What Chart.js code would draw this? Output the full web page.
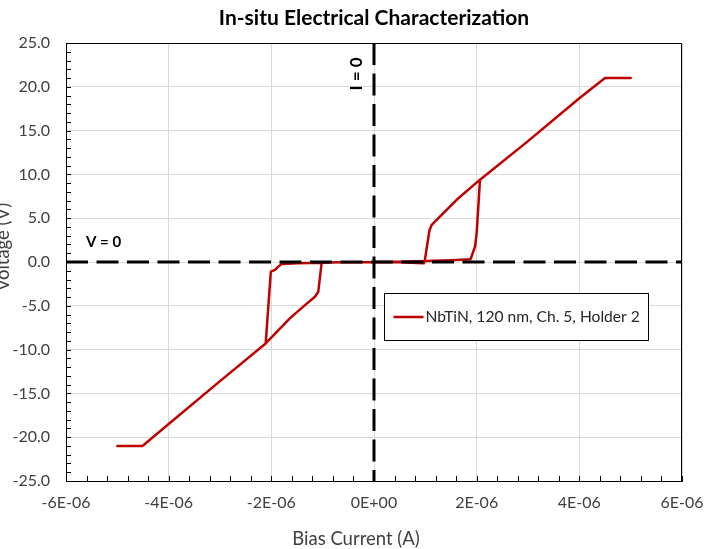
<!DOCTYPE html>
<html>
<head>
<meta charset="utf-8">
<script src="https://cdn.jsdelivr.net/npm/chart.js@4/dist/chart.umd.min.js"></script>
<style>
  html, body { margin: 0; padding: 0; background: #ffffff; }
  #wrap { width: 706px; height: 549px; position: relative; }
</style>
</head>
<body>
<div id="wrap"><canvas id="iv" width="706" height="549"></canvas></div>
<script>
// I-V sweep: 0 -> +5 uA -> 0 -> -5 uA -> 0, in measurement order
const seriesLabel = 'NbTiN, 120 nm, Ch. 5, Holder 2';

const biasCurrent = [
  0, 0.5e-6, 1.0e-6, 1.5e-6, 1.88e-6, 1.97e-6, 2.0e-6, 2.065e-6, 3.0e-6, 4.0e-6, 4.5e-6, 5.0e-6,
  4.5e-6, 4.0e-6, 3.0e-6, 2.065e-6, 1.61e-6, 1.22e-6, 1.12e-6, 1.08e-6, 0.99e-6, 0.97e-6, 0.5e-6, 0,
  -0.5e-6, -1.0e-6, -1.5e-6, -1.80e-6, -1.86e-6, -1.93e-6, -2.01e-6, -2.11e-6, -3.0e-6, -4.0e-6, -4.51e-6, -5.0e-6,
  -4.51e-6, -4.0e-6, -3.0e-6, -2.11e-6, -1.64e-6, -1.35e-6, -1.15e-6, -1.085e-6, -1.02e-6, -0.5e-6, 0
];
const voltage = [
  0, 0.03, 0.1, 0.2, 0.3, 1.8, 3.3, 9.4, 13.8, 18.7, 21.0, 21.0,
  21.0, 18.7, 13.8, 9.4, 7.1, 4.8, 4.2, 3.6, 0.2, -0.15, -0.02, 0,
  -0.02, -0.08, -0.15, -0.23, -0.5, -0.9, -1.1, -9.3, -13.6, -18.5, -21.0, -21.0,
  -21.0, -18.5, -13.6, -9.3, -6.43, -4.95, -3.96, -3.39, -0.07, -0.02, 0
];

const xTickValues = [-6e-6, -4e-6, -2e-6, 0, 2e-6, 4e-6, 6e-6];
const xTickLabels = ['-6E-06', '-4E-06', '-2E-06', '0E+00', '2E-06', '4E-06', '6E-06'];
const yTickValues = [-25, -20, -15, -10, -5, 0, 5, 10, 15, 20, 25];
const yTickLabels = ['-25.0', '-20.0', '-15.0', '-10.0', '-5.0', '0.0', '5.0', '10.0', '15.0', '20.0', '25.0'];

const FONT = 'Lato, "Open Sans", sans-serif';
const LINE_RED = '#C00000';
const TEXT_GREY = '#404040';

// small inward tick marks every 0.4 uA and every 1 V, plus the top/right frame
const minorTicks = {
  id: 'minorTicks',
  afterDraw(chart) {
    const { ctx, chartArea: a, scales: { x, y } } = chart;
    ctx.save();
    ctx.strokeStyle = '#000';
    ctx.lineWidth = 1;
    ctx.beginPath();
    for (let i = 0; i <= 30; i++) {
      const px = Math.round(x.getPixelForValue(-6e-6 + i * 0.4e-6)) + 0.5;
      ctx.moveTo(px, a.bottom);
      ctx.lineTo(px, a.bottom - 5);
    }
    for (let v = -25; v <= 25; v++) {
      const py = Math.round(y.getPixelForValue(v)) + 0.5;
      ctx.moveTo(a.left, py);
      ctx.lineTo(a.left + 5, py);
    }
    ctx.stroke();
    ctx.beginPath();
    ctx.moveTo(Math.round(a.left) + 0.5, Math.round(a.top) + 0.5);
    ctx.lineTo(Math.round(a.right) - 0.5, Math.round(a.top) + 0.5);
    ctx.lineTo(Math.round(a.right) - 0.5, Math.round(a.bottom) + 0.5);
    ctx.stroke();
    ctx.restore();
  }
};

// dashed I = 0 and V = 0 reference lines with their labels
const zeroLines = {
  id: 'zeroLines',
  afterDatasetsDraw(chart) {
    const { ctx, chartArea: a, scales: { x, y } } = chart;
    const x0 = x.getPixelForValue(0);
    const y0 = y.getPixelForValue(0);
    ctx.save();
    ctx.strokeStyle = '#000';
    ctx.lineWidth = 3;
    ctx.setLineDash([22, 8.5]);
    ctx.beginPath();
    ctx.moveTo(a.left, y0);
    ctx.lineTo(a.right, y0);
    ctx.stroke();
    ctx.beginPath();
    ctx.moveTo(x0, a.top);
    ctx.lineTo(x0, a.bottom);
    ctx.stroke();
    ctx.setLineDash([]);

    ctx.fillStyle = '#000';
    ctx.font = 'bold 15px ' + FONT;
    ctx.textAlign = 'left';
    ctx.textBaseline = 'alphabetic';
    ctx.fillText('V = 0', a.left + 20, y0 - 15);

    ctx.font = 'bold 17px ' + FONT;
    ctx.translate(x0 - 12, a.top + 31);
    ctx.rotate(-Math.PI / 2);
    ctx.textAlign = 'center';
    ctx.fillText('I = 0', 0, 0);
    ctx.restore();
  }
};

// axis titles and the boxed legend
const annotations = {
  id: 'annotations',
  afterDraw(chart) {
    const { ctx } = chart;
    ctx.save();
    ctx.fillStyle = TEXT_GREY;
    ctx.font = '18.5px ' + FONT;
    ctx.textAlign = 'center';
    ctx.textBaseline = 'middle';
    ctx.fillText('Bias Current (A)', 356, 539);

    ctx.save();
    ctx.translate(9, 247);
    ctx.rotate(-Math.PI / 2);
    ctx.textBaseline = 'alphabetic';
    ctx.fillText('Voltage (V)', 0, 0);
    ctx.restore();

    const ds = chart.data.datasets[0];
    const box = { left: 384.5, top: 293.5, width: 264, height: 47 };
    ctx.fillStyle = '#fff';
    ctx.fillRect(box.left, box.top, box.width, box.height);
    ctx.strokeStyle = '#000';
    ctx.lineWidth = 1;
    ctx.strokeRect(box.left, box.top, box.width, box.height);
    const midY = box.top + box.height / 2;
    ctx.strokeStyle = ds.borderColor;
    ctx.lineWidth = ds.borderWidth;
    ctx.beginPath();
    ctx.moveTo(box.left + 9, midY);
    ctx.lineTo(box.left + 39, midY);
    ctx.stroke();
    ctx.fillStyle = '#262626';
    ctx.font = '15.6px ' + FONT;
    ctx.textAlign = 'left';
    ctx.textBaseline = 'middle';
    ctx.fillText(ds.label, box.left + 41, midY);
    ctx.restore();
  }
};

new Chart(document.getElementById('iv'), {
  type: 'scatter',
  data: {
    datasets: [{
      label: seriesLabel,
      data: biasCurrent.map((c, i) => ({ x: c, y: voltage[i] })),
      showLine: true,
      borderColor: LINE_RED,
      backgroundColor: LINE_RED,
      borderWidth: 2.5,
      borderJoinStyle: 'round',
      pointRadius: 0,
      tension: 0
    }]
  },
  options: {
    responsive: false,
    animation: false,
    devicePixelRatio: 1,
    layout: { padding: { top: 0, right: 24, bottom: 0, left: 0 } },
    plugins: {
      legend: { display: false },
      tooltip: { enabled: false },
      title: {
        display: true,
        fullSize: false,
        text: 'In-situ Electrical Characterization',
        color: '#000',
        font: { family: FONT, size: 21, weight: 'bold', lineHeight: 1.2 },
        padding: { top: 6, bottom: 11.8 }
      }
    },
    scales: {
      x: {
        type: 'linear',
        min: -6e-6,
        max: 6e-6,
        afterBuildTicks: s => { s.ticks = xTickValues.map(v => ({ value: v })); },
        afterFit: s => { s.height = 68; s.paddingLeft = 0; s.paddingRight = 0; },
        ticks: {
          callback: (v, i) => xTickLabels[i],
          color: TEXT_GREY,
          font: { family: FONT, size: 16 },
          padding: 12,
          maxRotation: 0,
          autoSkip: false
        },
        grid: { color: '#d9d9d9', lineWidth: 1, drawTicks: false },
        border: { display: true, color: '#000', width: 1 }
      },
      y: {
        type: 'linear',
        min: -25,
        max: 25,
        afterBuildTicks: s => { s.ticks = yTickValues.map(v => ({ value: v })); },
        afterFit: s => { s.width = 66; s.paddingTop = 0; s.paddingBottom = 0; },
        ticks: {
          callback: (v, i) => yTickLabels[i],
          color: TEXT_GREY,
          font: { family: FONT, size: 16 },
          padding: 16,
          autoSkip: false
        },
        grid: { color: '#d9d9d9', lineWidth: 1, drawTicks: false },
        border: { display: true, color: '#000', width: 1 }
      }
    }
  },
  plugins: [zeroLines, minorTicks, annotations]
});
</script>
</body>
</html>
